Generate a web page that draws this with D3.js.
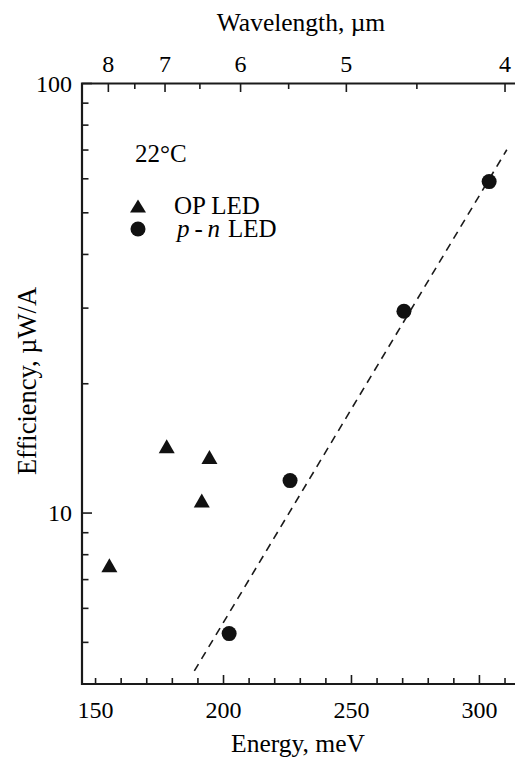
<!DOCTYPE html>
<html>
<head>
<meta charset="utf-8">
<script src="https://cdn.jsdelivr.net/npm/d3@7"></script>
<style>
  body { margin: 0; background: #fff; }
  svg { display: block; font-family: "Liberation Serif", "Times New Roman", serif; }
</style>
</head>
<body>
<svg></svg>
<script>
//data
var opEnergy = [155.4, 177.8, 194.5, 191.5];
var opEff = [7.56, 14.3, 13.5, 10.7];
var pnEnergy = [202.2, 226.0, 270.5, 303.8];
var pnEff = [5.24, 11.9, 29.5, 59.1];
//dashed fit line end points
var fitEnergy = [188.6, 310.7];
var fitEff = [4.29, 70.1];
//tick values
var energyTicks = [150, 200, 250, 300];
var energyMinor = [160, 170, 180, 190, 210, 220, 230, 240, 260, 270, 280, 290, 310];
var waveTicks = [8, 7, 6, 5, 4];
var waveMinor = [7.5, 6.5, 5.5, 4.5];
var effTicks = [10, 100];
var effMinor = [5, 6, 7, 8, 9, 20, 30, 40, 50, 60, 70, 80, 90];

var svgWidth = 515, svgHeight = 762;
//plot box edges
var boxLeft = 82, boxRight = 515, boxTop = 83.5, boxBottom = 684;

var svg = d3.select("svg")
    .attr("width", svgWidth)
    .attr("height", svgHeight);

var x = d3.scaleLinear().domain([144.7, 313.9]).range([boxLeft, boxRight]);
var y = d3.scaleLog().domain([4, 100]).range([boxBottom, boxTop]);

//wavelength (um) to photon energy (meV)
function waveX(l) { return x(1240 / l); }

//frame: left, bottom, top
svg.append("path")
    .attr("d", "M" + boxRight + "," + boxTop + "H" + boxLeft + "V" + boxBottom + "H" + boxRight)
    .attr("fill", "none")
    .attr("stroke", "#1a1a1a")
    .attr("stroke-width", 2.2);

var tickColor = "#1a1a1a";

//vertical tick marks
function vTick(px, y0, len) {
    svg.append("line")
        .attr("x1", px).attr("x2", px)
        .attr("y1", y0).attr("y2", y0 + len)
        .attr("stroke", tickColor).attr("stroke-width", 1.6);
}
//bottom ticks point up
energyMinor.concat([150]).forEach(function(d) { vTick(x(d), boxBottom, -6); });
energyTicks.filter(function(d) { return d != 150; }).forEach(function(d) { vTick(x(d), boxBottom, -9); });

svg.selectAll(".xlab")
    .data(energyTicks)
    .enter().append("text")
    .attr("x", function(d) { return x(d); })
    .attr("y", 718)
    .attr("text-anchor", "middle")
    .attr("font-size", 24)
    .text(function(d) { return d; });

//top ticks, wavelength, pointing down
waveMinor.forEach(function(d) { vTick(waveX(d), boxTop, 5.5); });
waveTicks.forEach(function(d) { vTick(waveX(d), boxTop, 8.5); });

svg.selectAll(".wlab")
    .data(waveTicks)
    .enter().append("text")
    .attr("x", function(d) { return waveX(d); })
    .attr("y", 72)
    .attr("text-anchor", "middle")
    .attr("font-size", 24)
    .text(function(d) { return d; });

//left ticks, log scale
function hTick(py, len) {
    svg.append("line")
        .attr("x1", boxLeft).attr("x2", boxLeft + len)
        .attr("y1", py).attr("y2", py)
        .attr("stroke", tickColor).attr("stroke-width", 1.6);
}
effMinor.forEach(function(d) { hTick(y(d), 6.5); });
effTicks.forEach(function(d) { hTick(y(d), 10); });

svg.selectAll(".ylab")
    .data(effTicks)
    .enter().append("text")
    .attr("x", 72)
    .attr("y", function(d) { return y(d) + 8.3; })
    .attr("text-anchor", "end")
    .attr("font-size", 24)
    .text(function(d) { return d; });

//axis titles
svg.append("text")
    .attr("x", 298).attr("y", 752)
    .attr("text-anchor", "middle")
    .attr("font-size", 25.5)
    .text("Energy, meV");

svg.append("text")
    .attr("x", 301).attr("y", 31)
    .attr("text-anchor", "middle")
    .attr("font-size", 25.5)
    .text("Wavelength, \u00b5m");

svg.append("text")
    .attr("transform", "translate(36,381) rotate(-90)")
    .attr("text-anchor", "middle")
    .attr("font-size", 26.5)
    .text("Efficiency, \u00b5W/A");

//dashed fit line
var fitLine = d3.line()
    .x(function(d, i) { return x(fitEnergy[i]); })
    .y(function(d) { return y(d); });

svg.append("path")
    .attr("d", fitLine(fitEff))
    .attr("fill", "none")
    .attr("stroke", "#1a1a1a")
    .attr("stroke-width", 1.6)
    .attr("stroke-dasharray", "8,6");

//triangle marker centred on its box
function triangle(w, h) {
    return "M0," + (-h / 2) + "L" + (w / 2) + "," + (h / 2) + "L" + (-w / 2) + "," + (h / 2) + "Z";
}

svg.selectAll(".op")
    .data(opEff)
    .enter().append("path")
    .attr("d", triangle(16, 14))
    .attr("transform", function(d, i) { return "translate(" + x(opEnergy[i]) + "," + y(d) + ")"; })
    .attr("fill", "#111");

svg.selectAll(".pn")
    .data(pnEff)
    .enter().append("circle")
    .attr("cx", function(d, i) { return x(pnEnergy[i]); })
    .attr("cy", function(d) { return y(d); })
    .attr("r", 7.5)
    .attr("fill", "#111");

//legend
svg.append("text")
    .attr("x", 135).attr("y", 162)
    .attr("font-size", 25)
    .text("22\u00b0C");

svg.append("path")
    .attr("d", triangle(16, 13))
    .attr("transform", "translate(138,206)")
    .attr("fill", "#111");

svg.append("text")
    .attr("x", 174).attr("y", 214)
    .attr("font-size", 25)
    .text("OP LED");

svg.append("circle")
    .attr("cx", 138).attr("cy", 229)
    .attr("r", 7.5)
    .attr("fill", "#111");

//"p - n LED" in separate pieces, p and n in italics
var pnParts = [
    {t: "p", x: 177, it: true},
    {t: "-", x: 194.5, it: false},
    {t: "n", x: 207.5, it: true},
    {t: "LED", x: 228, it: false}
];
svg.selectAll(".pnlab")
    .data(pnParts)
    .enter().append("text")
    .attr("x", function(d) { return d.x; })
    .attr("y", 237)
    .attr("font-size", 25)
    .attr("font-style", function(d) { return d.it ? "italic" : "normal"; })
    .text(function(d) { return d.t; });
</script>
</body>
</html>
